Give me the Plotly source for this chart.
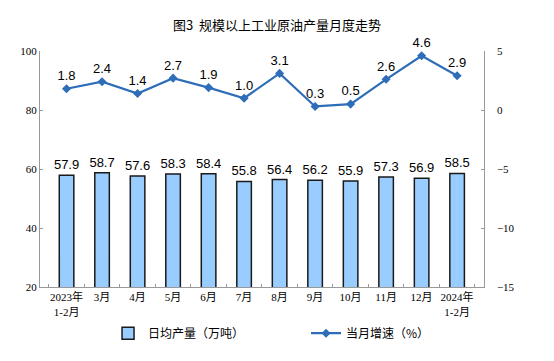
import plotly.graph_objects as go
from plotly.subplots import make_subplots

categories = ["2023年<br>1-2月", "3月", "4月", "5月", "6月", "7月", "8月", "9月", "10月", "11月", "12月", "2024年<br>1-2月"]
daily_output = [57.9, 58.7, 57.6, 58.3, 58.4, 55.8, 56.4, 56.2, 55.9, 57.3, 56.9, 58.5]
growth = [1.8, 2.4, 1.4, 2.7, 1.9, 1.0, 3.1, 0.3, 0.5, 2.6, 4.6, 2.9]
left_ticks = [20, 40, 60, 80, 100]
right_ticks = [-15, -10, -5, 0, 5]

cjk = "Noto Sans CJK SC"
fig = make_subplots(specs=[[{"secondary_y": True}]])

fig.add_trace(go.Bar(
    x=categories, y=daily_output, name="日均产量（万吨）",
    marker=dict(color="#99CCFF", line=dict(color="#1a1a1a", width=1.5)),
    width=0.41,
    text=[f"{v:.1f}" for v in daily_output], textposition="outside",
    constraintext="none",
    textfont=dict(family="Liberation Sans, Arial", size=13, color="#000"),
    cliponaxis=False,
), secondary_y=False)

fig.add_trace(go.Scatter(
    x=categories, y=growth, name="当月增速（%）", mode="lines+markers+text",
    line=dict(color="#2E6DB8", width=2.2),
    marker=dict(symbol="diamond", size=7, color="#2E6DB8"),
    text=[f"{v:.1f}" for v in growth], textposition="top center",
    textfont=dict(family="Liberation Sans, Arial", size=13, color="#000"),
    cliponaxis=False,
), secondary_y=True)

fig.update_layout(
    width=554, height=361,
    margin=dict(l=40, r=42, t=51, b=74, autoexpand=False),
    plot_bgcolor="white", paper_bgcolor="white",
    title=dict(text="图3  规模以上工业原油产量月度走势", x=0.5, xanchor="center",
               yref="container", y=0.93, yanchor="middle",
               font=dict(family=cjk, size=13, color="#000")),
    legend=dict(orientation="h", xref="container", x=0.195, xanchor="left",
                yref="container", y=0.077, yanchor="middle",
                font=dict(family=cjk, size=12, color="#000"), entrywidth=153,
                itemwidth=30, traceorder="normal"),
    showlegend=True,
)
fig.update_xaxes(
    showline=True, linecolor="#999", linewidth=1, showgrid=False,
    ticks="inside", ticklen=3, tickcolor="#999", tickson="boundaries",
    tickangle=0,
    tickfont=dict(family="Liberation Serif, Noto Sans CJK SC", size=11, color="#000"),
)
fig.update_yaxes(
    range=[20, 100], tickvals=left_ticks, showgrid=False, zeroline=False,
    showline=True, linecolor="#999", linewidth=1, ticks="inside", ticklen=3, tickcolor="#999",
    tickfont=dict(family="Liberation Serif", size=11, color="#000"),
    secondary_y=False,
)
fig.update_yaxes(
    range=[-15, 5], tickvals=right_ticks, showgrid=False, zeroline=False,
    showline=True, linecolor="#999", linewidth=1, ticks="inside", ticklen=3, tickcolor="#999",
    tickfont=dict(family="Liberation Serif", size=11, color="#000"),
    ticklabelstandoff=10,
    secondary_y=True,
)
fig.write_html("out.html", config={"displayModeBar": False},
               post_script="document.body.style.margin='0';")
